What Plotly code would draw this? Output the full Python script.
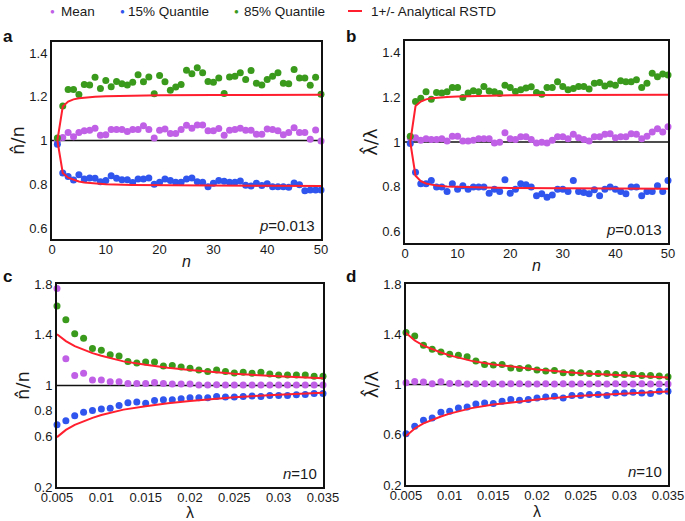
import plotly.graph_objects as go

# ---------------- data ----------------
n_vals = list(range(1, 51))

a_mean = [1.0, 1.014, 1.036, 1.017, 1.036, 1.044, 1.047, 1.056, 1.024, 1.026,
          1.05, 1.05, 1.05, 1.041, 1.05, 1.05, 1.067, 1.05, 1.011, 1.047,
          1.052, 1.032, 1.032, 1.05, 1.07, 1.056, 1.071, 1.071, 1.044, 1.044,
          1.055, 1.024, 1.047, 1.05, 1.056, 1.047, 1.047, 1.029, 1.029, 1.052,
          1.05, 1.044, 1.026, 1.036, 1.058, 1.036, 1.036, 1.006, 1.048, 0.998]
a_q15 = [0.983, 0.852, 0.836, 0.82, 0.844, 0.824, 0.829, 0.827, 0.812, 0.817,
         0.839, 0.827, 0.821, 0.821, 0.808, 0.824, 0.824, 0.829, 0.8, 0.809,
         0.824, 0.817, 0.809, 0.809, 0.824, 0.829, 0.812, 0.809, 0.789, 0.805,
         0.817, 0.814, 0.809, 0.809, 0.815, 0.795, 0.792, 0.805, 0.794, 0.802,
         0.789, 0.789, 0.789, 0.786, 0.806, 0.798, 0.771, 0.774, 0.774, 0.774]
a_q85 = [1.011, 1.158, 1.233, 1.233, 1.21, 1.256, 1.253, 1.289, 1.238, 1.274,
         1.245, 1.27, 1.259, 1.253, 1.266, 1.30, 1.268, 1.29, 1.214, 1.297,
         1.268, 1.229, 1.244, 1.256, 1.321, 1.305, 1.332, 1.309, 1.27, 1.266,
         1.286, 1.215, 1.29, 1.294, 1.309, 1.279, 1.32, 1.262, 1.253, 1.279,
         1.294, 1.309, 1.262, 1.259, 1.324, 1.286, 1.286, 1.252, 1.289, 1.211]

b_mean = [1.019, 1.019, 1.008, 1.014, 1.011, 1.011, 1.014, 1.004, 1.026, 1.026,
          1.004, 1.004, 1.008, 1.014, 1.014, 1.014, 0.996, 0.999, 1.041, 1.014,
          1.011, 1.023, 1.023, 1.011, 0.996, 0.999, 0.996, 1.008, 1.023, 1.023,
          1.014, 1.034, 1.019, 1.011, 1.004, 1.023, 1.023, 1.034, 1.037, 1.019,
          1.023, 1.023, 1.037, 1.034, 1.014, 1.026, 1.044, 1.059, 1.044, 1.068]
b_q15 = [0.993, 0.865, 0.814, 0.814, 0.829, 0.799, 0.799, 0.779, 0.814, 0.79,
         0.805, 0.79, 0.799, 0.799, 0.799, 0.772, 0.79, 0.779, 0.832, 0.772,
         0.79, 0.814, 0.809, 0.799, 0.76, 0.769, 0.754, 0.764, 0.79, 0.79,
         0.779, 0.829, 0.779, 0.775, 0.769, 0.787, 0.76, 0.79, 0.799, 0.79,
         0.779, 0.769, 0.799, 0.799, 0.76, 0.779, 0.779, 0.805, 0.779, 0.829]
b_q85 = [1.026, 1.18, 1.195, 1.224, 1.19, 1.221, 1.218, 1.224, 1.243, 1.243,
         1.198, 1.218, 1.228, 1.224, 1.247, 1.227, 1.224, 1.216, 1.253, 1.243,
         1.225, 1.233, 1.241, 1.246, 1.221, 1.213, 1.243, 1.243, 1.268, 1.247,
         1.233, 1.238, 1.247, 1.247, 1.236, 1.262, 1.265, 1.25, 1.258, 1.253,
         1.273, 1.268, 1.268, 1.277, 1.243, 1.262, 1.306, 1.291, 1.303, 1.298]

n_red = [1, 2, 3, 4, 5, 6, 8, 10, 15, 20, 30, 40, 50]
a_red_up = [1.0, 1.155, 1.178, 1.188, 1.193, 1.196, 1.2, 1.202, 1.205, 1.207, 1.208, 1.209, 1.209]
a_red_lo = [1.0, 0.852, 0.83, 0.82, 0.813, 0.808, 0.803, 0.8, 0.797, 0.795, 0.794, 0.793, 0.792]
b_red_up = [1.0, 1.16, 1.18, 1.19, 1.195, 1.198, 1.201, 1.203, 1.206, 1.208, 1.209, 1.21, 1.21]
b_red_lo = [1.0, 0.85, 0.825, 0.815, 0.81, 0.806, 0.802, 0.8, 0.797, 0.795, 0.794, 0.793, 0.792]

lam_vals = [0.005, 0.006, 0.007, 0.008, 0.009, 0.010, 0.011, 0.012, 0.013, 0.014,
            0.015, 0.016, 0.017, 0.018, 0.019, 0.020, 0.021, 0.022, 0.023, 0.024,
            0.025, 0.026, 0.027, 0.028, 0.029, 0.030, 0.031, 0.032, 0.033, 0.034, 0.035]

c_mean = [1.765, 1.211, 1.078, 1.096, 1.043, 1.043, 1.03, 1.03, 1.016, 1.016,
          1.016, 1.024, 1.016, 1.011, 1.011, 1.011, 1.003, 1.003, 1.005, 1.003,
          1.003, 1.003, 1.003, 1.004, 1.003, 1.003, 1.003, 1.003, 1.003, 1.003, 1.003]
c_q15 = [0.69, 0.722, 0.762, 0.789, 0.802, 0.815, 0.821, 0.842, 0.864, 0.869,
         0.861, 0.882, 0.888, 0.888, 0.896, 0.904, 0.904, 0.904, 0.914, 0.909,
         0.909, 0.914, 0.917, 0.914, 0.922, 0.922, 0.922, 0.928, 0.93, 0.936, 0.936]
c_q85 = [1.626, 1.519, 1.407, 1.372, 1.292, 1.278, 1.243, 1.233, 1.19, 1.177,
         1.185, 1.185, 1.153, 1.158, 1.145, 1.136, 1.123, 1.11, 1.123, 1.11,
         1.099, 1.104, 1.096, 1.104, 1.091, 1.083, 1.083, 1.083, 1.083, 1.072, 1.072]

d_mean = [1.013, 1.024, 1.019, 1.005, 1.021, 1.008, 1.01, 1.003, 1.006, 1.005,
          1.006, 1.004, 1.006, 1.005, 1.004, 1.003, 1.005, 1.004, 1.005, 1.003,
          1.005, 1.004, 1.006, 1.004, 1.005, 1.003, 1.004, 1.005, 1.004, 1.003, 1.004]
d_q15 = [0.608, 0.667, 0.715, 0.733, 0.779, 0.787, 0.813, 0.821, 0.845, 0.853,
         0.848, 0.867, 0.88, 0.875, 0.88, 0.893, 0.901, 0.907, 0.893, 0.912,
         0.912, 0.92, 0.92, 0.912, 0.933, 0.933, 0.939, 0.933, 0.928, 0.947, 0.947]
d_q85 = [1.413, 1.387, 1.312, 1.28, 1.259, 1.24, 1.232, 1.221, 1.187, 1.16,
         1.155, 1.16, 1.131, 1.128, 1.133, 1.115, 1.107, 1.112, 1.093, 1.093,
         1.093, 1.088, 1.088, 1.088, 1.08, 1.08, 1.08, 1.072, 1.072, 1.067, 1.061]

lam_red = [0.005, 0.006, 0.007, 0.008, 0.009, 0.010, 0.0125, 0.015, 0.0175, 0.020, 0.025, 0.030, 0.035]
c_red_up = [1.404, 1.35, 1.31, 1.28, 1.255, 1.235, 1.19, 1.163, 1.14, 1.123, 1.093, 1.072, 1.057]
c_red_lo = [0.593, 0.65, 0.69, 0.72, 0.745, 0.767, 0.81, 0.837, 0.86, 0.877, 0.907, 0.928, 0.943]
d_red_up = [1.41, 1.35, 1.31, 1.28, 1.255, 1.232, 1.188, 1.16, 1.138, 1.12, 1.09, 1.07, 1.055]
d_red_lo = [0.59, 0.65, 0.69, 0.72, 0.745, 0.768, 0.812, 0.84, 0.862, 0.88, 0.91, 0.93, 0.945]

series_names = ["Mean", "15% Quantile", "85% Quantile", "1+/- Analytical RSTD"]
yticks_ab = [0.6, 0.8, 1, 1.2, 1.4]
yticks_c = [0.2, 0.6, 0.8, 1, 1.4, 1.8]
yticks_d = [0.2, 0.6, 1, 1.4, 1.8]
xticks_ab = [0, 10, 20, 30, 40, 50]
xticks_cd = [0.005, 0.01, 0.015, 0.02, 0.025, 0.03, 0.035]
xticktext_cd = ["0.005", "0.01", "0.015", "0.02", "0.025", "0.03", "0.035"]

# ---------------- style ----------------
W, H = 685, 521
C_MEAN = "#c060e6"
C_Q15 = "#2f55ee"
C_Q85 = "#3a9a1c"
C_RED = "#ff1f2e"
FONT = "Liberation Sans, Arial, sans-serif"
HATFONT = "DejaVu Sans, Liberation Sans, sans-serif"

def dom_x(a, b):
    return [a / W, b / W]

def dom_y(top, bot):
    return [1 - bot / H, 1 - top / H]

panels = [
    dict(key="a", x=n_vals, mean=a_mean, q15=a_q15, q85=a_q85, xr=n_red, up=a_red_up, lo=a_red_lo,
         dx=dom_x(52, 321), dy=dom_y(42, 239), xrange=[0, 50], yrange=[0.55, 1.45],
         xt=xticks_ab, xtt=[str(v) for v in xticks_ab], yt=yticks_ab,
         ytitle="n\u0302/n", xtitle="<i>n</i>", note="<i>p</i>=0.013"),
    dict(key="b", x=n_vals, mean=b_mean, q15=b_q15, q85=b_q85, xr=n_red, up=b_red_up, lo=b_red_lo,
         dx=dom_x(405, 668), dy=dom_y(41, 243), xrange=[0, 50], yrange=[0.55, 1.45],
         xt=xticks_ab, xtt=[str(v) for v in xticks_ab], yt=yticks_ab,
         ytitle="\u03bb\u0302/\u03bb", xtitle="<i>n</i>", note="<i>p</i>=0.013"),
    dict(key="c", x=lam_vals, mean=c_mean, q15=c_q15, q85=c_q85, xr=lam_red, up=c_red_up, lo=c_red_lo,
         dx=dom_x(57, 323), dy=dom_y(284, 487), xrange=[0.005, 0.035], yrange=[0.2, 1.8],
         xt=xticks_cd, xtt=xticktext_cd, yt=yticks_c,
         ytitle="n\u0302/n", xtitle="\u03bb", note="<i>n</i>=10"),
    dict(key="d", x=lam_vals, mean=d_mean, q15=d_q15, q85=d_q85, xr=lam_red, up=d_red_up, lo=d_red_lo,
         dx=dom_x(406, 668), dy=dom_y(284, 485), xrange=[0.005, 0.035], yrange=[0.2, 1.8],
         xt=xticks_cd, xtt=xticktext_cd, yt=yticks_d,
         ytitle="\u03bb\u0302/\u03bb", xtitle="\u03bb", note="<i>n</i>=10"),
]

fig = go.Figure()
layout = dict(
    width=W, height=H, margin=dict(l=0, r=0, t=0, b=0, autoexpand=False),
    paper_bgcolor="white", plot_bgcolor="white",
    showlegend=False, font=dict(family=FONT, size=13, color="#1a1a1a"),
)
annotations = []
shapes = []

for i, p in enumerate(panels):
    idx = "" if i == 0 else str(i + 1)
    xa, ya = "x" + idx, "y" + idx
    for vals, col in [(p["mean"], C_MEAN), (p["q15"], C_Q15), (p["q85"], C_Q85)]:
        fig.add_trace(go.Scatter(x=p["x"], y=vals, mode="markers", xaxis=xa, yaxis=ya,
                                 marker=dict(color=col, size=7, line=dict(width=0)),
                                 cliponaxis=False))
    for vals in [p["up"], p["lo"]]:
        fig.add_trace(go.Scatter(x=p["xr"], y=vals, mode="lines", xaxis=xa, yaxis=ya,
                                 line=dict(color=C_RED, width=2), cliponaxis=False))
    axcommon = dict(showgrid=False, zeroline=False, showline=True, mirror=True,
                    linecolor="#111111", linewidth=2, ticks="", automargin=False,
                    tickfont=dict(family=FONT, size=13, color="#1a1a1a"))
    layout["xaxis" + idx] = dict(axcommon, domain=p["dx"], range=p["xrange"], anchor=ya,
                                  tickvals=p["xt"], ticktext=p["xtt"], ticklabelstandoff=-3,
                                  title=dict(text=p["xtitle"], font=dict(family=FONT, size=16), standoff=0))
    layout["yaxis" + idx] = dict(axcommon, domain=p["dy"], range=p["yrange"], anchor=xa,
                                  tickvals=p["yt"], ticktext=[("%g" % v) for v in p["yt"]],
                                  title=dict(text=p["ytitle"], font=dict(family=HATFONT, size=18), standoff=0))
    shapes.append(dict(type="line", xref=xa + " domain", yref=ya, x0=0, x1=1, y0=1, y1=1,
                       line=dict(color="#111111", width=1.5), layer="below"))
    annotations.append(dict(text=p["note"], xref=xa + " domain", yref=ya + " domain",
                            x=0.985, y=0.015, xanchor="right", yanchor="bottom",
                            showarrow=False, font=dict(family=FONT, size=15, color="#1a1a1a")))

# panel letters
for letter, px, py in [("a", 8, 36), ("b", 351, 36), ("c", 8, 276), ("d", 351, 276)]:
    annotations.append(dict(text="<b>%s</b>" % letter, xref="paper", yref="paper",
                            x=px / W, y=1 - py / H, xanchor="center", yanchor="middle",
                            showarrow=False, font=dict(family=FONT, size=17, color="#111111")))

# legend (manual, at the top)
LY = 1 - 11 / H
leg = [(series_names[0], C_MEAN, 52, 59), (series_names[1], C_Q15, 122, 126),
       (series_names[2], C_Q85, 236, 242)]
for name, col, mx, tx in leg:
    annotations.append(dict(text="\u25cf", xref="paper", yref="paper", x=mx / W, y=LY,
                            xanchor="center", yanchor="middle", showarrow=False,
                            font=dict(family=FONT, size=8, color=col)))
    annotations.append(dict(text=name, xref="paper", yref="paper", x=tx / W, y=LY,
                            xanchor="left", yanchor="middle", showarrow=False,
                            font=dict(family=FONT, size=13.5, color="#1a1a1a")))
shapes.append(dict(type="line", xref="paper", yref="paper", x0=348 / W, x1=362 / W,
                   y0=LY, y1=LY, line=dict(color=C_RED, width=2)))
annotations.append(dict(text=series_names[3], xref="paper", yref="paper", x=369 / W, y=LY,
                        xanchor="left", yanchor="middle", showarrow=False,
                        font=dict(family=FONT, size=13.5, color="#1a1a1a")))

layout["annotations"] = annotations
layout["shapes"] = shapes
fig.update_layout(**layout)
fig.write_html("out.html", config={"displayModeBar": False},
               post_script="document.body.style.margin='0px';document.body.style.overflow='hidden';")
